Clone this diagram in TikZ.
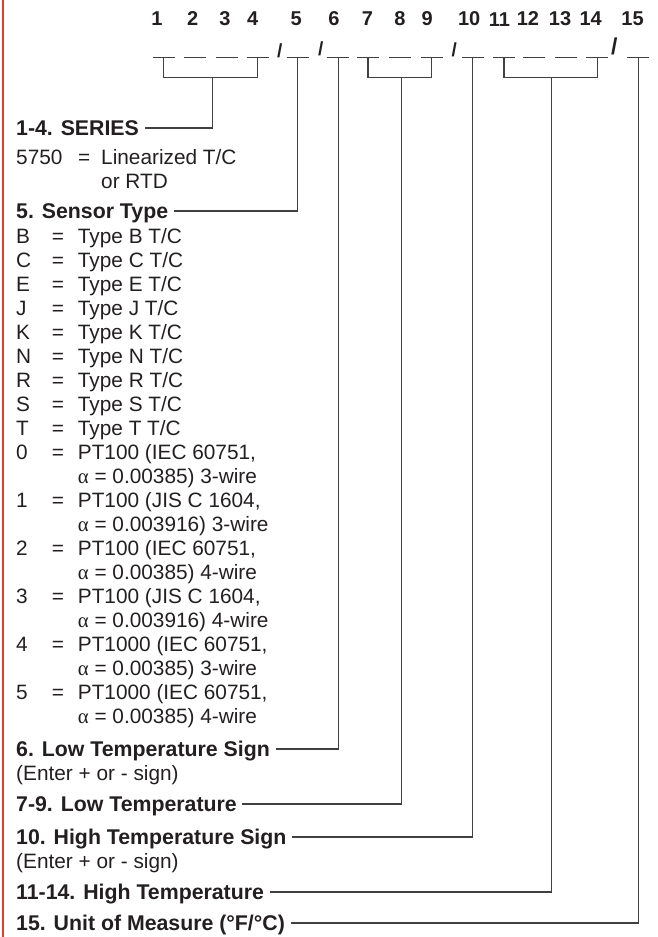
\documentclass[tikz,border=0pt]{standalone}
\usepackage{fontspec}
\setmainfont{Liberation Sans}
\newfontfamily\grk{Liberation Serif}
\definecolor{ink}{HTML}{231F20}
\definecolor{linec}{HTML}{404040}
\definecolor{redbar}{HTML}{E8392F}
\tikzset{
  rg/.style={font=\fontsize{20.8}{24}\selectfont, inner sep=0pt, text height=14.9pt, text depth=0pt, anchor=west, text=ink},
  hd/.style={rg, font=\bfseries\fontsize{21.3}{24}\selectfont, text height=15.25pt},
  num/.style={font=\bfseries\fontsize{20}{24}\selectfont, inner sep=0pt, text=ink},
  sl/.style={font=\bfseries\fontsize{19}{22}\selectfont, inner sep=0pt, text=ink},
  us/.style={draw=linec, line width=1.1pt},
  conn/.style={draw=linec, line width=1.1pt},
}
\begin{document}
\begin{tikzpicture}[x=1pt,y=-1pt]
\useasboundingbox (0,0) rectangle (657,937);
\fill[redbar] (2,0) rectangle (4.2,937);

% top numbers
\node[num] (n1) at (157,19) {1};
\node[num] (n2) at (192.7,19) {2};
\node[num] (n3) at (225,19) {3};
\node[num] (n4) at (252.6,19) {4};
\node[num] (n5) at (296.2,19) {5};
\node[num] (n6) at (334,19) {6};
\node[num] (n7) at (367.4,19) {7};
\node[num] (n8) at (400,19) {8};
\node[num] (n9) at (427.3,19) {9};
\node[num] (n10) at (469.2,19) {10};
\node[num] (n11) at (499.4,20) {11};
\node[num] (n12) at (527.9,19) {12};
\node[num] (n13) at (560.1,19) {13};
\node[num] (n14) at (590.7,19) {14};
\node[num] (n15) at (632.6,19) {15};

% slashes
\node[sl] (s1) at (279.7,50.5) {/};
\node[sl] (s2) at (320.8,49.2) {/};
\node[sl] (s3) at (454.2,49.5) {/};
\node[sl, font=\bfseries\fontsize{23}{26}\selectfont] (s4) at (614.2,46.7) {/};

% underscore positions
\coordinate (u1) at (163.8,57.5);
\coordinate (u2) at (195.3,57.5);
\coordinate (u3) at (226.5,57.5);
\coordinate (u4) at (257.8,57.5);
\coordinate (u5) at (297.5,57.5);
\coordinate (u6) at (338.3,57.5);
\coordinate (u7) at (368,57.5);
\coordinate (u8) at (400,57.5);
\coordinate (u9) at (431.7,57.5);
\coordinate (u10) at (472.8,57.5);
\coordinate (u11) at (504,57.5);
\coordinate (u12) at (534,57.5);
\coordinate (u13) at (565.8,57.5);
\coordinate (u14) at (597.3,57.5);
\coordinate (u15) at (638.3,57.5);
\foreach \i in {1,...,15}{
  \draw[us] ([xshift=-11pt]u\i) -- ([xshift=11pt]u\i);
}

% bracket midpoints
\coordinate (bA) at (212.7,77.7);
\coordinate (bD) at (401.2,77.7);
\coordinate (bF) at (551.2,77.7);

% headings
\node[hd] (hA) at (16,128) {1-4. SERIES};
\node[rg] (k5750) at (16,157) {5750};
\node[rg] (e5750) at (78,157) {=};
\node[rg] (v5750) at (101,157) {Linearized T/C};
\node[rg] (v5750b) at (101,181) {or RTD};

\node[hd] (hB) at (16,211) {5. Sensor Type};
\foreach \k/\y/\v in {B/236/{Type B T/C}, C/260/{Type C T/C}, E/284/{Type E T/C}, J/308/{Type J T/C},
  K/332/{Type K T/C}, N/356/{Type N T/C}, R/380/{Type R T/C}, S/404/{Type S T/C}, T/428/{Type T T/C},
  0/452/{PT100 (IEC 60751,}, 1/500/{PT100 (JIS C 1604,}, 2/548/{PT100 (IEC 60751,},
  3/596/{PT100 (JIS C 1604,}, 4/644/{PT1000 (IEC 60751,}, 5/692/{PT1000 (IEC 60751,}}{
  \node[rg] (key\k) at (16,\y) {\k};
  \node[rg] (eq\k) at (51.7,\y) {=};
  \node[rg] (val\k) at (77.7,\y) {\v};
}
\foreach \n/\y/\v in {0/476/{0.00385) 3-wire}, 1/524/{0.003916) 3-wire}, 2/572/{0.00385) 4-wire},
  3/620/{0.003916) 4-wire}, 4/668/{0.00385) 3-wire}, 5/716/{0.00385) 4-wire}}{
  \node[rg] (alpha\n) at (77.7,\y) {{\grk α} = \v};
}

\node[hd] (hC) at (16,749) {6. Low Temperature Sign};
\node[rg] (subC) at (16,773) {(Enter + or - sign)};
\node[hd] (hD) at (16,804) {7-9. Low Temperature};
\node[hd] (hE) at (16,837) {10. High Temperature Sign};
\node[rg] (subE) at (16,861) {(Enter + or - sign)};
\node[hd] (hF) at (16,892) {11-14. High Temperature};
\node[hd] (hG) at (16,923) {15. Unit of Measure (°F/°C)};

% connectors
\draw[conn] (u1) |- (bA) -| (u4);
\draw[conn] (bA) |- ([xshift=5.5pt]hA.east);
\draw[conn] (u5) |- ([xshift=5.5pt]hB.east);
\draw[conn] (u6) |- ([xshift=5.5pt]hC.east);
\draw[conn] (u7) |- (bD) -| (u9);
\draw[conn] (bD) |- ([xshift=5.5pt]hD.east);
\draw[conn] (u10) |- ([xshift=5.5pt]hE.east);
\draw[conn] (u11) |- (bF) -| (u14);
\draw[conn] (bF) |- ([xshift=5.5pt]hF.east);
\draw[conn] (u15) |- ([xshift=5.5pt]hG.east);
\end{tikzpicture}
\end{document}
